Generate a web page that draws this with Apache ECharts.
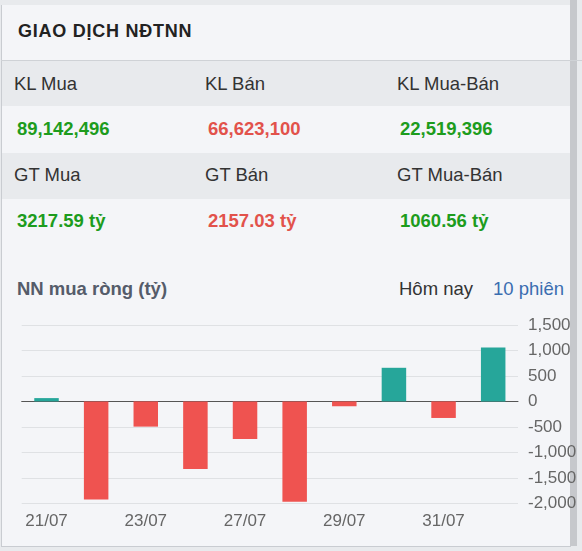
<!DOCTYPE html>
<html>
<head>
<meta charset="utf-8">
<script src="https://cdn.jsdelivr.net/npm/echarts@6/dist/echarts.min.js"></script>
<style>
  html, body { margin:0; padding:0; width:582px; height:551px; overflow:hidden; background:#e8eaed; font-family:"Liberation Sans", Arial, sans-serif; }
  .card { position:absolute; left:1px; top:5px; width:569px; height:541px; background:#f4f5f8; border-left:1px solid #c9ccd1; border-bottom:1px solid #c9ccd1; }
  .scroll { position:absolute; left:570px; top:0; width:7px; height:546px; background:#c6c8cc; }
  .title { position:absolute; left:18px; top:5px; height:55px; line-height:53px; font-weight:bold; font-size:18px; letter-spacing:0.75px; color:#222; }
  .sep { position:absolute; left:1px; top:60px; width:581px; height:1px; background:#cfd2d6; }
  .row { position:absolute; left:2px; width:568px; }
  .hdr { background:#e8eaed; }
  .cell { position:absolute; top:0; font-size:18.5px; white-space:nowrap; }
  .lbl { color:#333; }
  .val { font-weight:bold; }
  .g { color:#1d9c1d; }
  .r { color:#e2524b; }
  .sub { position:absolute; top:275px; line-height:28px; font-size:18.5px; white-space:nowrap; }
  #chart { position:absolute; left:0; top:0; width:582px; height:551px; }
</style>
</head>
<body>
<div class="card"></div>
<div class="scroll"></div>
<div class="title">GIAO DỊCH NĐTNN</div>
<div class="sep"></div>
<div class="row hdr" style="top:61px;height:45px;line-height:45px">
  <div class="cell lbl" style="left:12px">KL Mua</div>
  <div class="cell lbl" style="left:203px">KL Bán</div>
  <div class="cell lbl" style="left:395px">KL Mua-Bán</div>
</div>
<div class="row" style="top:106px;height:47px;line-height:45px">
  <div class="cell val g" style="left:15px">89,142,496</div>
  <div class="cell val r" style="left:206px">66,623,100</div>
  <div class="cell val g" style="left:398px">22,519,396</div>
</div>
<div class="row hdr" style="top:153px;height:46px;line-height:43px">
  <div class="cell lbl" style="left:12px">GT Mua</div>
  <div class="cell lbl" style="left:203px">GT Bán</div>
  <div class="cell lbl" style="left:395px">GT Mua-Bán</div>
</div>
<div class="row" style="top:199px;height:46px;line-height:44px">
  <div class="cell val g" style="left:15px">3217.59 tỷ</div>
  <div class="cell val r" style="left:206px">2157.03 tỷ</div>
  <div class="cell val g" style="left:398px">1060.56 tỷ</div>
</div>
<div class="sub" style="left:17px;font-weight:bold;color:#555c6a">NN mua ròng (tỷ)</div>
<div class="sub" style="left:399px;color:#333">Hôm nay</div>
<div class="sub" style="left:493px;color:#3a6db0">10 phiên</div>
<div id="chart"></div>
<script>
const categories = ["21/07","22/07","23/07","24/07","27/07","28/07","29/07","30/07","31/07","03/08"];
const netBuy = [65, -1925, -495, -1325, -740, -1970, -95, 660, -325, 1060.56];
const yTicks = { min: -2000, max: 1500, interval: 500 };

const chart = echarts.init(document.getElementById('chart'), null, { renderer: 'canvas' });
chart.setOption({
  animation: false,
  backgroundColor: 'transparent',
  grid: { left: 21.7, right: 64, top: 325, bottom: 47.7, containLabel: false },
  xAxis: {
    type: 'category',
    data: categories,
    axisLine: { onZero: true, lineStyle: { color: '#555', width: 1 } },
    axisTick: { show: false },
    axisLabel: { interval: 1, color: '#666', fontSize: 17, fontFamily: 'Liberation Sans, Arial', margin: 10 },
    splitLine: { show: false }
  },
  yAxis: {
    type: 'value',
    position: 'right',
    min: yTicks.min, max: yTicks.max, interval: yTicks.interval,
    axisLine: { show: false },
    axisTick: { show: false },
    axisLabel: {
      color: '#666', fontSize: 17, fontFamily: 'Liberation Sans, Arial', margin: 10,
      formatter: v => v.toLocaleString('en-US')
    },
    splitLine: { lineStyle: { color: '#dfe1e4', width: 1 } }
  },
  series: [{
    type: 'bar',
    data: netBuy.map(v => ({ value: v, itemStyle: { color: v >= 0 ? '#26a69a' : '#ef5350' } })),
    barWidth: 24.5
  }]
});
</script>
</body>
</html>
